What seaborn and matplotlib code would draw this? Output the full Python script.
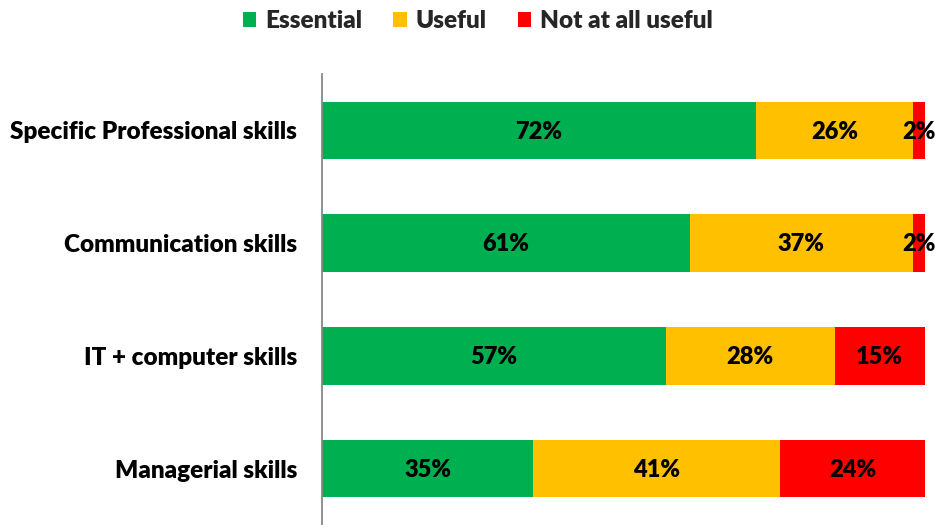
import matplotlib
matplotlib.use('Agg')
import matplotlib.pyplot as plt
import seaborn as sns
import pandas as pd
from matplotlib.patches import Patch

# data
skills = ['Specific Professional skills', 'Communication skills',
          'IT + computer skills', 'Managerial skills']
essential = [72, 61, 57, 35]
useful = [26, 37, 28, 41]
not_useful = [2, 2, 15, 24]

series = ['Essential', 'Useful', 'Not at all useful']
colors = ['#00B050', '#FFC000', '#FF0000']

sns.set_style('white')
plt.rcParams['font.family'] = ['Lato', 'DejaVu Sans']

df = pd.DataFrame({'skill': skills, 'Essential': essential,
                   'Useful': useful, 'Not at all useful': not_useful})
# cumulative totals so the bars can be drawn on top of each other
df['c1'] = df['Essential']
df['c2'] = df['c1'] + df['Useful']
df['c3'] = df['c2'] + df['Not at all useful']

fig = plt.figure(figsize=(9.35, 5.25), dpi=100)
ax = fig.add_axes([322 / 935, 0, (925 - 322) / 935, (525 - 74) / 525])

for col, color in zip(['c3', 'c2', 'c1'], colors[::-1]):
    sns.barplot(data=df, x=col, y='skill', color=color, orient='h',
                width=0.51, saturation=1, ax=ax, edgecolor='none')

# value labels centred on each segment
for i, row in df.iterrows():
    starts = [0, row['c1'], row['c2']]
    for s, name in zip(starts, series):
        v = row[name]
        ax.text(s + v / 2, i + 0.01, f'{v}%', ha='center', va='center',
                fontsize=17, fontweight='heavy', color='black')

ax.set_xlim(0, 100)
ax.set_ylim(3.5, -0.5)
ax.set_xlabel('')
ax.set_ylabel('')
ax.set_xticks([])
ax.tick_params(axis='y', length=0, pad=18, labelsize=17.5, labelcolor='black')
for lab in ax.get_yticklabels():
    lab.set_fontweight('heavy')
for side in ['top', 'right', 'bottom']:
    ax.spines[side].set_visible(False)
ax.spines['left'].set_color('#888888')
ax.spines['left'].set_linewidth(1.3)

handles = [Patch(facecolor=c, edgecolor='none', label=s) for s, c in zip(series, colors)]
fig.legend(handles=handles, loc='upper center', bbox_to_anchor=(0.511, 1.022),
           ncol=3, frameon=False, handlelength=0.55, handleheight=0.55,
           handletextpad=0.35, columnspacing=1.3,
           prop={'weight': 'heavy', 'size': 17.5})

fig.savefig('out.png', dpi=100)
